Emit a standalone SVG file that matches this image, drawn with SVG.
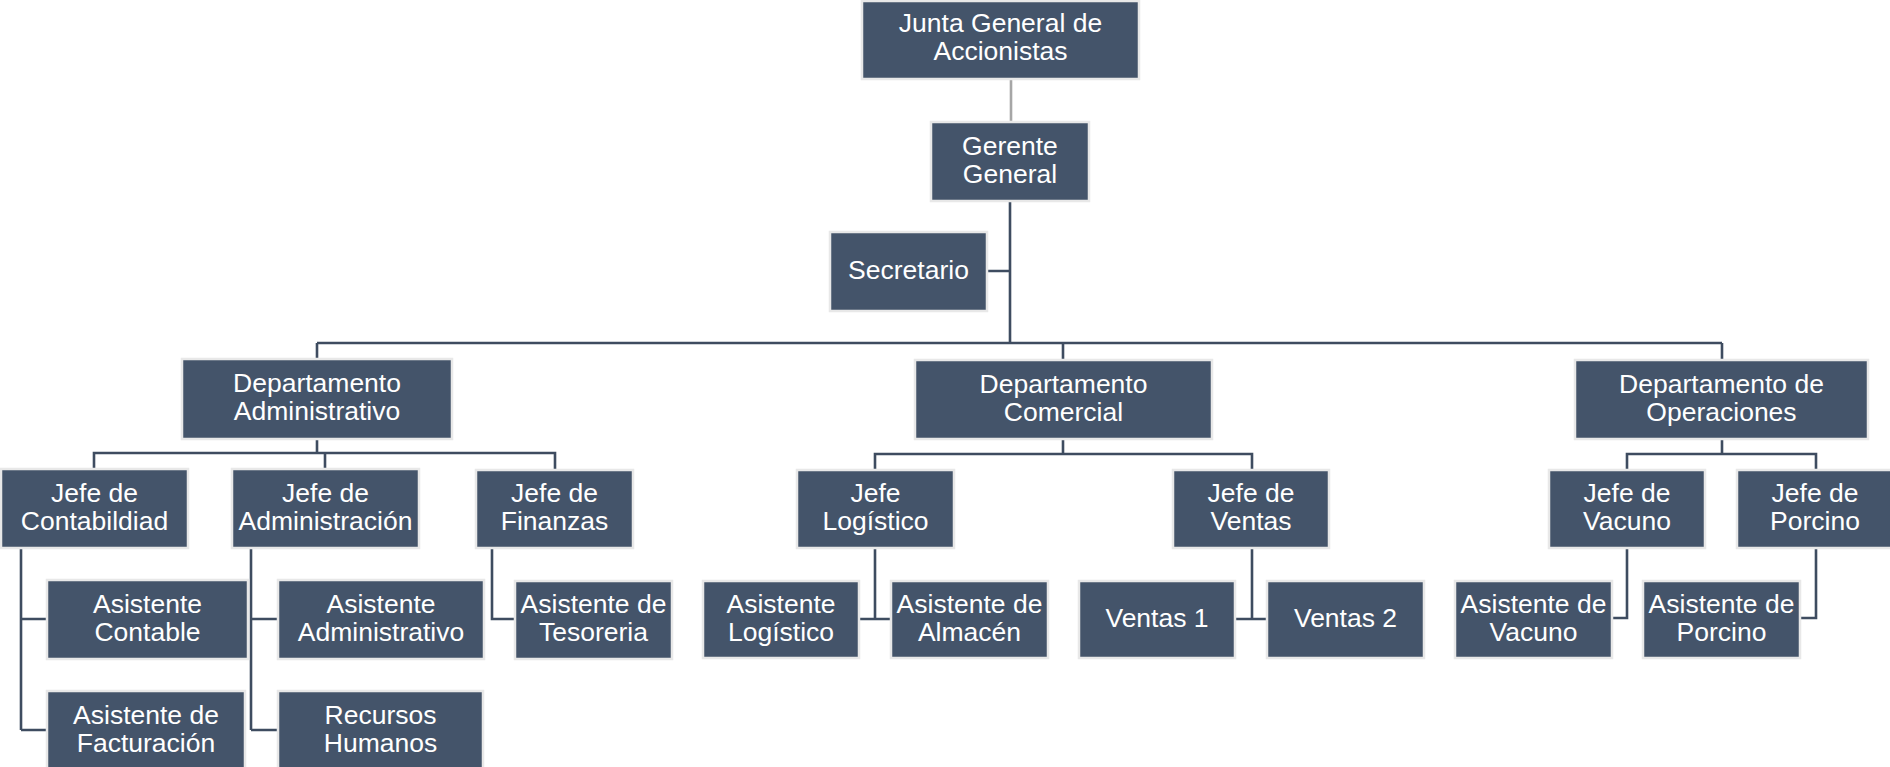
<svg xmlns="http://www.w3.org/2000/svg" width="1890" height="767" viewBox="0 0 1890 767">
<style>
.box{fill:#44546A;stroke:#E8E8E8;stroke-width:2.5}
.t{font-family:"Liberation Sans",Arial,sans-serif;font-size:26.5px;fill:#FFFFFF;text-anchor:middle}
.c{fill:none;stroke:#3E4C60;stroke-width:2.6}
.g{fill:none;stroke:#A6A6A6;stroke-width:2.6}
</style>
<rect width="1890" height="767" fill="#FFFFFF"/>
<g id="connectors">
<path class="g" d="M1011 79V123"/>
<path class="c" d="M1010 201V343M986 271H1010M317 343H1722M317 343V360M1063 343V361M1722 343V361"/>
<path class="c" d="M317 438V453M94 470V453H555V471M325 453V470"/>
<path class="c" d="M21 547V730M21 619H48M21 730H48"/>
<path class="c" d="M251 547V730M251 619H279M251 730H279"/>
<path class="c" d="M492 547V619H516"/>
<path class="c" d="M1063 438V454M875 471V454H1252V471"/>
<path class="c" d="M875 547V619M858 619H892"/>
<path class="c" d="M1252 547V619M1234 619H1268"/>
<path class="c" d="M1722 438V454M1627 471V454H1816V471"/>
<path class="c" d="M1627 547V618H1611"/>
<path class="c" d="M1816 547V618H1799"/>
</g>
<g id="junta"><rect class="box" x="862" y="1" width="277" height="78"/><text class="t" x="1000.5" y="32">Junta General de</text><text class="t" x="1000.5" y="60">Accionistas</text></g>
<g id="gerente"><rect class="box" x="931" y="122" width="158" height="79"/><text class="t" x="1010" y="155">Gerente</text><text class="t" x="1010" y="183">General</text></g>
<g id="secretario"><rect class="box" x="830" y="232" width="157" height="79"/><text class="t" x="908.5" y="279">Secretario</text></g>
<g id="dept-admin"><rect class="box" x="182" y="359" width="270" height="80"/><text class="t" x="317" y="392">Departamento</text><text class="t" x="317" y="420">Administrativo</text></g>
<g id="dept-comercial"><rect class="box" x="915" y="360" width="297" height="79"/><text class="t" x="1063.5" y="392.5">Departamento</text><text class="t" x="1063.5" y="420.5">Comercial</text></g>
<g id="dept-operaciones"><rect class="box" x="1575" y="360" width="293" height="79"/><text class="t" x="1721.5" y="392.5">Departamento de</text><text class="t" x="1721.5" y="420.5">Operaciones</text></g>
<g id="jefe-contabilidad"><rect class="box" x="1" y="469" width="187" height="79"/><text class="t" x="94.5" y="502">Jefe de</text><text class="t" x="94.5" y="530">Contabildiad</text></g>
<g id="jefe-administracion"><rect class="box" x="232" y="469" width="187" height="79"/><text class="t" x="325.5" y="502">Jefe de</text><text class="t" x="325.5" y="530">Administración</text></g>
<g id="jefe-finanzas"><rect class="box" x="476" y="470" width="157" height="78"/><text class="t" x="554.5" y="502">Jefe de</text><text class="t" x="554.5" y="530">Finanzas</text></g>
<g id="jefe-logistico"><rect class="box" x="797" y="470" width="157" height="78"/><text class="t" x="875.5" y="502">Jefe</text><text class="t" x="875.5" y="530">Logístico</text></g>
<g id="jefe-ventas"><rect class="box" x="1173" y="470" width="156" height="78"/><text class="t" x="1251" y="502">Jefe de</text><text class="t" x="1251" y="530">Ventas</text></g>
<g id="jefe-vacuno"><rect class="box" x="1549" y="470" width="156" height="78"/><text class="t" x="1627" y="502">Jefe de</text><text class="t" x="1627" y="530">Vacuno</text></g>
<g id="jefe-porcino"><rect class="box" x="1737" y="470" width="156" height="78"/><text class="t" x="1815" y="502">Jefe de</text><text class="t" x="1815" y="530">Porcino</text></g>
<g id="asistente-contable"><rect class="box" x="47" y="580" width="201" height="79"/><text class="t" x="147.5" y="612.5">Asistente</text><text class="t" x="147.5" y="640.5">Contable</text></g>
<g id="asistente-facturacion"><rect class="box" x="47" y="691" width="198" height="79"/><text class="t" x="146" y="723.5">Asistente de</text><text class="t" x="146" y="751.5">Facturación</text></g>
<g id="asistente-administrativo"><rect class="box" x="278" y="580" width="206" height="79"/><text class="t" x="381" y="612.5">Asistente</text><text class="t" x="381" y="640.5">Administrativo</text></g>
<g id="recursos-humanos"><rect class="box" x="278" y="691" width="205" height="79"/><text class="t" x="380.5" y="723.5">Recursos</text><text class="t" x="380.5" y="751.5">Humanos</text></g>
<g id="asistente-tesoreria"><rect class="box" x="515" y="581" width="157" height="78"/><text class="t" x="593.5" y="612.5">Asistente de</text><text class="t" x="593.5" y="640.5">Tesoreria</text></g>
<g id="asistente-logistico"><rect class="box" x="703" y="581" width="156" height="77"/><text class="t" x="781" y="612.5">Asistente</text><text class="t" x="781" y="640.5">Logístico</text></g>
<g id="asistente-almacen"><rect class="box" x="891" y="581" width="157" height="77"/><text class="t" x="969.5" y="612.5">Asistente de</text><text class="t" x="969.5" y="640.5">Almacén</text></g>
<g id="ventas-1"><rect class="box" x="1079" y="581" width="156" height="77"/><text class="t" x="1157" y="627">Ventas 1</text></g>
<g id="ventas-2"><rect class="box" x="1267" y="581" width="157" height="77"/><text class="t" x="1345.5" y="627">Ventas 2</text></g>
<g id="asistente-vacuno"><rect class="box" x="1455" y="581" width="157" height="77"/><text class="t" x="1533.5" y="612.5">Asistente de</text><text class="t" x="1533.5" y="640.5">Vacuno</text></g>
<g id="asistente-porcino"><rect class="box" x="1643" y="581" width="157" height="77"/><text class="t" x="1721.5" y="612.5">Asistente de</text><text class="t" x="1721.5" y="640.5">Porcino</text></g>
</svg>
